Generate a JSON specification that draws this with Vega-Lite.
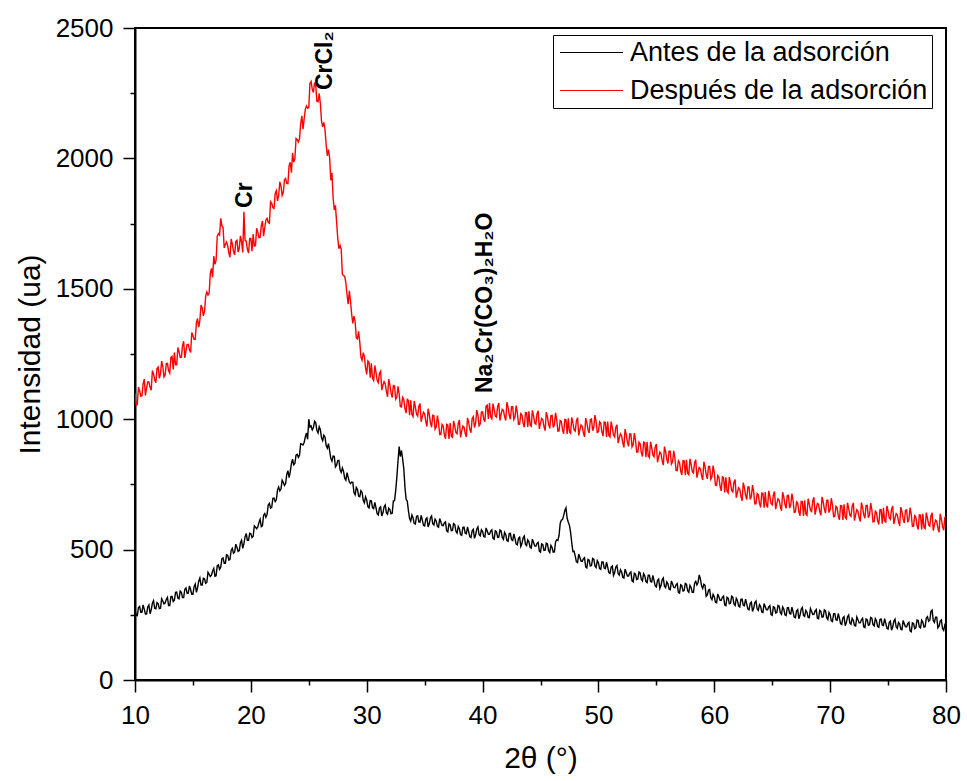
{
"$schema": "https://vega.github.io/schema/vega-lite/v6.json",
"width": 811, "height": 652,
"autosize": {"type": "none"},
"padding": {"left": 135, "top": 28, "right": 21, "bottom": 101},
"background": "white",
"config": {"view": {"stroke": "black", "strokeWidth": 2}, "font": "Liberation Sans"},
"resolve": {"axis": {"x": "independent", "y": "independent"}},
"layer": [
{
"data": {"values": [
{"t":10.0,"a":268,"d":1100},{"t":10.2,"a":247,"d":1056},{"t":10.4,"a":282,"d":1109},{"t":10.6,"a":260,"d":1090},{"t":10.8,"a":272,"d":1154},
{"t":11.0,"a":253,"d":1120},{"t":11.2,"a":288,"d":1143},{"t":11.4,"a":269,"d":1111},{"t":11.6,"a":304,"d":1174},{"t":11.8,"a":273,"d":1140},
{"t":12.0,"a":293,"d":1200},{"t":12.2,"a":275,"d":1174},{"t":12.4,"a":303,"d":1203},{"t":12.6,"a":295,"d":1169},{"t":12.8,"a":317,"d":1214},
{"t":13.0,"a":285,"d":1177},{"t":13.2,"a":320,"d":1241},{"t":13.4,"a":306,"d":1256},{"t":13.6,"a":337,"d":1209},{"t":13.8,"a":311,"d":1259},
{"t":14.0,"a":336,"d":1237},{"t":14.2,"a":316,"d":1299},{"t":14.4,"a":353,"d":1263},{"t":14.6,"a":333,"d":1287},{"t":14.8,"a":347,"d":1256},
{"t":15.0,"a":329,"d":1320},{"t":15.2,"a":368,"d":1306},{"t":15.4,"a":353,"d":1386},{"t":15.6,"a":391,"d":1379},{"t":15.8,"a":364,"d":1427},
{"t":16.0,"a":388,"d":1412},{"t":16.2,"a":374,"d":1488},{"t":16.4,"a":406,"d":1482},{"t":16.6,"a":402,"d":1578},{"t":16.8,"a":428,"d":1625},
{"t":17.0,"a":400,"d":1610},{"t":17.2,"a":441,"d":1712},{"t":17.4,"a":432,"d":1770},{"t":17.6,"a":468,"d":1735},{"t":17.8,"a":447,"d":1670},
{"t":18.0,"a":478,"d":1665},{"t":18.2,"a":463,"d":1621},{"t":18.4,"a":505,"d":1672},{"t":18.6,"a":490,"d":1630},{"t":18.8,"a":509,"d":1686},
{"t":19.0,"a":496,"d":1655},{"t":19.2,"a":536,"d":1681},{"t":19.4,"a":522,"d":1795},{"t":19.6,"a":562,"d":1683},{"t":19.8,"a":536,"d":1637},
{"t":20.0,"a":561,"d":1693},{"t":20.2,"a":551,"d":1710},{"t":20.4,"a":586,"d":1665},{"t":20.6,"a":587,"d":1717},{"t":20.8,"a":616,"d":1697},
{"t":21.0,"a":592,"d":1760},{"t":21.2,"a":638,"d":1735},{"t":21.4,"a":635,"d":1770},{"t":21.6,"a":677,"d":1751},{"t":21.8,"a":662,"d":1828},
{"t":22.0,"a":698,"d":1808},{"t":22.2,"a":691,"d":1876},{"t":22.4,"a":740,"d":1857},{"t":22.6,"a":732,"d":1894},{"t":22.8,"a":758,"d":1869},
{"t":23.0,"a":753,"d":1923},{"t":23.2,"a":803,"d":1903},{"t":23.4,"a":798,"d":1985},{"t":23.6,"a":847,"d":2021},{"t":23.8,"a":830,"d":1998},
{"t":24.0,"a":865,"d":2072},{"t":24.2,"a":862,"d":2076},{"t":24.4,"a":904,"d":2163},{"t":24.6,"a":911,"d":2152},{"t":24.8,"a":947,"d":2201},
{"t":25.0,"a":1000,"d":2195},{"t":25.2,"a":974,"d":2295},{"t":25.4,"a":968,"d":2253},{"t":25.6,"a":986,"d":2280},{"t":25.8,"a":947,"d":2217},
{"t":26.0,"a":960,"d":2210},{"t":26.2,"a":918,"d":2121},{"t":26.4,"a":931,"d":2111},{"t":26.6,"a":889,"d":2010},{"t":26.8,"a":879,"d":2002},
{"t":27.0,"a":839,"d":1945},{"t":27.2,"a":858,"d":1802},{"t":27.4,"a":824,"d":1756},{"t":27.6,"a":842,"d":1654},{"t":27.8,"a":796,"d":1651},
{"t":28.0,"a":800,"d":1550},{"t":28.2,"a":766,"d":1523},{"t":28.4,"a":777,"d":1441},{"t":28.6,"a":753,"d":1453},{"t":28.8,"a":758,"d":1367},
{"t":29.0,"a":710,"d":1375},{"t":29.2,"a":731,"d":1308},{"t":29.4,"a":703,"d":1296},{"t":29.6,"a":719,"d":1226},{"t":29.8,"a":679,"d":1240},
{"t":30.0,"a":690,"d":1172},{"t":30.2,"a":660,"d":1218},{"t":30.4,"a":687,"d":1214},{"t":30.6,"a":657,"d":1149},{"t":30.8,"a":661,"d":1180},
{"t":31.0,"a":633,"d":1140},{"t":31.2,"a":664,"d":1184},{"t":31.4,"a":641,"d":1130},{"t":31.6,"a":671,"d":1135},{"t":31.8,"a":636,"d":1086},
{"t":32.0,"a":653,"d":1132},{"t":32.2,"a":639,"d":1083},{"t":32.4,"a":688,"d":1127},{"t":32.6,"a":777,"d":1085},{"t":32.8,"a":895,"d":1097},
{"t":33.0,"a":880,"d":1047},{"t":33.2,"a":811,"d":1076},{"t":33.4,"a":693,"d":1023},{"t":33.6,"a":649,"d":1072},{"t":33.8,"a":609,"d":1072},
{"t":34.0,"a":622,"d":1010},{"t":34.2,"a":598,"d":1047},{"t":34.4,"a":629,"d":1012},{"t":34.6,"a":605,"d":1060},{"t":34.8,"a":613,"d":1010},
{"t":35.0,"a":591,"d":1020},{"t":35.2,"a":622,"d":972},{"t":35.4,"a":599,"d":1019},{"t":35.6,"a":629,"d":969},{"t":35.8,"a":594,"d":1013},
{"t":36.0,"a":610,"d":970},{"t":36.2,"a":586,"d":987},{"t":36.4,"a":606,"d":941},{"t":36.6,"a":592,"d":974},{"t":36.8,"a":606,"d":925},
{"t":37.0,"a":568,"d":978},{"t":37.2,"a":595,"d":985},{"t":37.4,"a":574,"d":931},{"t":37.6,"a":596,"d":973},{"t":37.8,"a":563,"d":944},
{"t":38.0,"a":580,"d":997},{"t":38.2,"a":555,"d":954},{"t":38.4,"a":586,"d":970},{"t":38.6,"a":561,"d":932},{"t":38.8,"a":569,"d":988},
{"t":39.0,"a":546,"d":948},{"t":39.2,"a":578,"d":1010},{"t":39.4,"a":556,"d":985},{"t":39.6,"a":587,"d":1015},{"t":39.8,"a":553,"d":982},
{"t":40.0,"a":570,"d":1028},{"t":40.2,"a":548,"d":990},{"t":40.4,"a":571,"d":1054},{"t":40.6,"a":559,"d":1062},{"t":40.8,"a":576,"d":1001},
{"t":41.0,"a":540,"d":1037},{"t":41.2,"a":569,"d":1008},{"t":41.4,"a":548,"d":1062},{"t":41.6,"a":572,"d":1018},{"t":41.8,"a":539,"d":1034},
{"t":42.0,"a":558,"d":995},{"t":42.2,"a":532,"d":1046},{"t":42.4,"a":562,"d":1000},{"t":42.6,"a":535,"d":1048},{"t":42.8,"a":542,"d":1009},
{"t":43.0,"a":518,"d":1025},{"t":43.2,"a":548,"d":981},{"t":43.4,"a":523,"d":1016},{"t":43.6,"a":552,"d":969},{"t":43.8,"a":515,"d":1024},
{"t":44.0,"a":530,"d":1030},{"t":44.2,"a":506,"d":973},{"t":44.4,"a":527,"d":1013},{"t":44.6,"a":513,"d":981},{"t":44.8,"a":528,"d":1032},
{"t":45.0,"a":490,"d":985},{"t":45.2,"a":519,"d":998},{"t":45.4,"a":498,"d":956},{"t":45.6,"a":522,"d":1009},{"t":45.8,"a":489,"d":965},
{"t":46.0,"a":508,"d":1015},{"t":46.2,"a":491,"d":979},{"t":46.4,"a":538,"d":999},{"t":46.6,"a":554,"d":955},{"t":46.8,"a":613,"d":991},
{"t":47.0,"a":630,"d":944},{"t":47.2,"a":660,"d":998},{"t":47.4,"a":605,"d":1003},{"t":47.6,"a":565,"d":946},{"t":47.8,"a":492,"d":986},
{"t":48.0,"a":475,"d":954},{"t":48.2,"a":450,"d":1006},{"t":48.4,"a":470,"d":960},{"t":48.6,"a":455,"d":973},{"t":48.8,"a":469,"d":932},
{"t":49.0,"a":430,"d":986},{"t":49.2,"a":459,"d":947},{"t":49.4,"a":439,"d":1001},{"t":49.6,"a":463,"d":969},{"t":49.8,"a":431,"d":992},
{"t":50.0,"a":450,"d":952},{"t":50.2,"a":424,"d":984},{"t":50.4,"a":453,"d":935},{"t":50.6,"a":427,"d":987},{"t":50.8,"a":433,"d":991},
{"t":51.0,"a":409,"d":932},{"t":51.2,"a":437,"d":968},{"t":51.4,"a":412,"d":932},{"t":51.6,"a":439,"d":979},{"t":51.8,"a":402,"d":928},
{"t":52.0,"a":415,"d":937},{"t":52.2,"a":391,"d":892},{"t":52.4,"a":412,"d":942},{"t":52.6,"a":399,"d":896},{"t":52.8,"a":414,"d":943},
{"t":53.0,"a":376,"d":903},{"t":53.2,"a":406,"d":920},{"t":53.4,"a":387,"d":874},{"t":53.6,"a":411,"d":906},{"t":53.8,"a":380,"d":857},
{"t":54.0,"a":400,"d":910},{"t":54.2,"a":373,"d":913},{"t":54.4,"a":402,"d":853},{"t":54.6,"a":376,"d":891},{"t":54.8,"a":382,"d":856},
{"t":55.0,"a":357,"d":905},{"t":55.2,"a":387,"d":856},{"t":55.4,"a":362,"d":868},{"t":55.6,"a":391,"d":824},{"t":55.8,"a":354,"d":876},
{"t":56.0,"a":369,"d":830},{"t":56.2,"a":346,"d":877},{"t":56.4,"a":368,"d":837},{"t":56.6,"a":354,"d":851},{"t":56.8,"a":370,"d":803},
{"t":57.0,"a":333,"d":834},{"t":57.2,"a":362,"d":786},{"t":57.4,"a":343,"d":840},{"t":57.6,"a":367,"d":844},{"t":57.8,"a":336,"d":787},
{"t":58.0,"a":355,"d":827},{"t":58.2,"a":336,"d":794},{"t":58.4,"a":378,"d":845},{"t":58.6,"a":374,"d":797},{"t":58.8,"a":388,"d":810},
{"t":59.0,"a":351,"d":767},{"t":59.2,"a":363,"d":818},{"t":59.4,"a":326,"d":771},{"t":59.6,"a":347,"d":819},{"t":59.8,"a":308,"d":779},
{"t":60.0,"a":319,"d":795},{"t":60.2,"a":296,"d":746},{"t":60.4,"a":318,"d":777},{"t":60.6,"a":306,"d":725},{"t":60.8,"a":322,"d":776},
{"t":61.0,"a":285,"d":777},{"t":61.2,"a":314,"d":718},{"t":61.4,"a":294,"d":755},{"t":61.6,"a":318,"d":721},{"t":61.8,"a":286,"d":769},
{"t":62.0,"a":305,"d":720},{"t":62.2,"a":280,"d":731},{"t":62.4,"a":310,"d":687},{"t":62.6,"a":285,"d":738},{"t":62.8,"a":292,"d":692},
{"t":63.0,"a":269,"d":740},{"t":63.2,"a":299,"d":703},{"t":63.4,"a":275,"d":721},{"t":63.6,"a":303,"d":676},{"t":63.8,"a":267,"d":710},
{"t":64.0,"a":282,"d":662},{"t":64.2,"a":259,"d":716},{"t":64.4,"a":281,"d":721},{"t":64.6,"a":269,"d":664},{"t":64.8,"a":285,"d":704},
{"t":65.0,"a":248,"d":672},{"t":65.2,"a":278,"d":723},{"t":65.4,"a":259,"d":677},{"t":65.6,"a":283,"d":690},{"t":65.8,"a":252,"d":649},
{"t":66.0,"a":272,"d":702},{"t":66.2,"a":247,"d":658},{"t":66.4,"a":278,"d":708},{"t":66.6,"a":253,"d":671},{"t":66.8,"a":261,"d":689},
{"t":67.0,"a":239,"d":644},{"t":67.2,"a":270,"d":678},{"t":67.4,"a":248,"d":630},{"t":67.6,"a":278,"d":684},{"t":67.8,"a":244,"d":689},
{"t":68.0,"a":260,"d":632},{"t":68.2,"a":239,"d":675},{"t":68.4,"a":263,"d":646},{"t":68.6,"a":252,"d":701},{"t":68.8,"a":270,"d":657},
{"t":69.0,"a":235,"d":673},{"t":69.2,"a":263,"d":631},{"t":69.4,"a":242,"d":684},{"t":69.6,"a":265,"d":640},{"t":69.8,"a":232,"d":690},
{"t":70.0,"a":250,"d":653},{"t":70.2,"a":224,"d":671},{"t":70.4,"a":255,"d":627},{"t":70.6,"a":229,"d":661},{"t":70.8,"a":237,"d":614},
{"t":71.0,"a":213,"d":668},{"t":71.2,"a":243,"d":674},{"t":71.4,"a":220,"d":618},{"t":71.6,"a":249,"d":658},{"t":71.8,"a":214,"d":627},
{"t":72.0,"a":229,"d":679},{"t":72.2,"a":207,"d":634},{"t":72.4,"a":231,"d":648},{"t":72.6,"a":219,"d":608},{"t":72.8,"a":237,"d":662},
{"t":73.0,"a":201,"d":620},{"t":73.2,"a":231,"d":670},{"t":73.4,"a":212,"d":633},{"t":73.6,"a":237,"d":652},{"t":73.8,"a":207,"d":607},
{"t":74.0,"a":227,"d":642},{"t":74.2,"a":202,"d":596},{"t":74.4,"a":234,"d":653},{"t":74.6,"a":209,"d":660},{"t":74.8,"a":218,"d":606},
{"t":75.0,"a":195,"d":648},{"t":75.2,"a":226,"d":616},{"t":75.4,"a":203,"d":667},{"t":75.6,"a":233,"d":620},{"t":75.8,"a":198,"d":633},
{"t":76.0,"a":215,"d":591},{"t":76.2,"a":193,"d":645},{"t":76.4,"a":216,"d":602},{"t":76.6,"a":204,"d":652},{"t":76.8,"a":221,"d":616},
{"t":77.0,"a":185,"d":635},{"t":77.2,"a":217,"d":590},{"t":77.4,"a":201,"d":625},{"t":77.6,"a":228,"d":577},{"t":77.8,"a":200,"d":632},
{"t":78.0,"a":222,"d":637},{"t":78.2,"a":204,"d":581},{"t":78.4,"a":243,"d":621},{"t":78.6,"a":229,"d":590},{"t":78.8,"a":268,"d":641},
{"t":79.0,"a":221,"d":595},{"t":79.2,"a":241,"d":608},{"t":79.4,"a":206,"d":566},{"t":79.6,"a":230,"d":618},{"t":79.8,"a":190,"d":574},
{"t":80.0,"a":203,"d":624},
{"t":10.1,"a":248,"d":1054},{"t":10.3,"a":278,"d":1123},{"t":10.5,"a":260,"d":1088},{"t":10.7,"a":288,"d":1135},{"t":10.9,"a":253,"d":1091},
{"t":11.1,"a":280,"d":1143},{"t":11.3,"a":254,"d":1122},{"t":11.5,"a":294,"d":1187},{"t":11.7,"a":275,"d":1150},{"t":11.9,"a":297,"d":1194},
{"t":12.1,"a":274,"d":1157},{"t":12.3,"a":312,"d":1223},{"t":12.5,"a":292,"d":1162},{"t":12.7,"a":309,"d":1213},{"t":12.9,"a":285,"d":1186},
{"t":13.1,"a":320,"d":1237},{"t":13.3,"a":301,"d":1191},{"t":13.5,"a":336,"d":1209},{"t":13.7,"a":314,"d":1275},{"t":13.9,"a":341,"d":1237},
{"t":14.1,"a":316,"d":1281},{"t":14.3,"a":348,"d":1235},{"t":14.5,"a":332,"d":1286},{"t":14.7,"a":361,"d":1266},{"t":14.9,"a":329,"d":1332},
{"t":15.1,"a":358,"d":1306},{"t":15.3,"a":336,"d":1370},{"t":15.5,"a":379,"d":1353},{"t":15.7,"a":364,"d":1438},{"t":15.9,"a":390,"d":1396},
{"t":16.1,"a":371,"d":1472},{"t":16.3,"a":413,"d":1476},{"t":16.5,"a":397,"d":1558},{"t":16.7,"a":418,"d":1544},{"t":16.9,"a":398,"d":1594},
{"t":17.1,"a":438,"d":1702},{"t":17.3,"a":424,"d":1706},{"t":17.5,"a":465,"d":1742},{"t":17.7,"a":447,"d":1657},{"t":17.9,"a":480,"d":1679},
{"t":18.1,"a":460,"d":1638},{"t":18.3,"a":498,"d":1691},{"t":18.5,"a":486,"d":1644},{"t":18.7,"a":521,"d":1682},{"t":18.9,"a":493,"d":1641},
{"t":19.1,"a":526,"d":1703},{"t":19.3,"a":505,"d":1639},{"t":19.5,"a":549,"d":1685},{"t":19.7,"a":536,"d":1651},{"t":19.9,"a":563,"d":1693},
{"t":20.1,"a":546,"d":1644},{"t":20.3,"a":591,"d":1664},{"t":20.5,"a":580,"d":1732},{"t":20.7,"a":604,"d":1696},{"t":20.9,"a":588,"d":1742},
{"t":21.1,"a":632,"d":1702},{"t":21.3,"a":624,"d":1764},{"t":21.5,"a":671,"d":1755},{"t":21.7,"a":659,"d":1834},{"t":21.9,"a":697,"d":1811},
{"t":22.1,"a":684,"d":1866},{"t":22.3,"a":729,"d":1837},{"t":22.5,"a":725,"d":1910},{"t":22.7,"a":766,"d":1858},{"t":22.9,"a":746,"d":1918},
{"t":23.1,"a":788,"d":1904},{"t":23.3,"a":776,"d":1972},{"t":23.5,"a":830,"d":1945},{"t":23.7,"a":825,"d":1986},{"t":23.9,"a":862,"d":2076},
{"t":24.1,"a":854,"d":2063},{"t":24.3,"a":906,"d":2133},{"t":24.5,"a":901,"d":2112},{"t":24.7,"a":932,"d":2188},{"t":24.9,"a":923,"d":2193},
{"t":25.1,"a":970,"d":2287},{"t":25.3,"a":959,"d":2265},{"t":25.5,"a":992,"d":2291},{"t":25.7,"a":957,"d":2219},{"t":25.9,"a":971,"d":2249},
{"t":26.1,"a":929,"d":2142},{"t":26.3,"a":939,"d":2138},{"t":26.5,"a":899,"d":2052},{"t":26.7,"a":906,"d":2034},{"t":26.9,"a":850,"d":1916},
{"t":27.1,"a":859,"d":1850},{"t":27.3,"a":817,"d":1820},{"t":27.5,"a":841,"d":1694},{"t":27.7,"a":806,"d":1666},{"t":27.9,"a":813,"d":1555},
{"t":28.1,"a":774,"d":1548},{"t":28.3,"a":795,"d":1477},{"t":28.5,"a":759,"d":1492},{"t":28.7,"a":759,"d":1403},{"t":28.9,"a":719,"d":1395},
{"t":29.1,"a":738,"d":1312},{"t":29.3,"a":705,"d":1337},{"t":29.5,"a":726,"d":1238},{"t":29.7,"a":689,"d":1255},{"t":29.9,"a":702,"d":1197},
{"t":30.1,"a":665,"d":1223},{"t":30.3,"a":688,"d":1159},{"t":30.5,"a":661,"d":1158},{"t":30.7,"a":681,"d":1206},{"t":30.9,"a":638,"d":1149},
{"t":31.1,"a":659,"d":1176},{"t":31.3,"a":629,"d":1112},{"t":31.5,"a":664,"d":1144},{"t":31.7,"a":641,"d":1106},{"t":31.9,"a":659,"d":1154},
{"t":32.1,"a":637,"d":1101},{"t":32.3,"a":687,"d":1129},{"t":32.5,"a":726,"d":1077},{"t":32.7,"a":839,"d":1126},{"t":32.9,"a":857,"d":1049},
{"t":33.1,"a":848,"d":1084},{"t":33.3,"a":740,"d":1041},{"t":33.5,"a":686,"d":1076},{"t":33.7,"a":619,"d":1015},{"t":33.9,"a":633,"d":1018},
{"t":34.1,"a":600,"d":1070},{"t":34.3,"a":628,"d":1019},{"t":34.5,"a":606,"d":1050},{"t":34.7,"a":631,"d":990},{"t":34.9,"a":593,"d":1027},
{"t":35.1,"a":617,"d":991},{"t":35.3,"a":587,"d":1040},{"t":35.5,"a":622,"d":987},{"t":35.7,"a":599,"d":1015},{"t":35.9,"a":617,"d":962},
{"t":36.1,"a":589,"d":1014},{"t":36.3,"a":619,"d":941},{"t":36.5,"a":593,"d":980},{"t":36.7,"a":602,"d":941},{"t":36.9,"a":572,"d":980},
{"t":37.1,"a":599,"d":924},{"t":37.3,"a":573,"d":935},{"t":37.5,"a":600,"d":993},{"t":37.7,"a":570,"d":948},{"t":37.9,"a":589,"d":984},
{"t":38.1,"a":558,"d":930},{"t":38.3,"a":585,"d":974},{"t":38.5,"a":563,"d":946},{"t":38.7,"a":587,"d":1005},{"t":38.9,"a":549,"d":961},
{"t":39.1,"a":572,"d":1003},{"t":39.3,"a":543,"d":968},{"t":39.5,"a":579,"d":1035},{"t":39.7,"a":557,"d":975},{"t":39.9,"a":576,"d":1027},
{"t":40.1,"a":550,"d":1000},{"t":40.3,"a":583,"d":1050},{"t":40.5,"a":559,"d":1001},{"t":40.7,"a":571,"d":1008},{"t":40.9,"a":543,"d":1060},
{"t":41.1,"a":572,"d":1012},{"t":41.3,"a":547,"d":1049},{"t":41.5,"a":575,"d":995},{"t":41.7,"a":546,"d":1038},{"t":41.9,"a":566,"d":1010},
{"t":42.1,"a":535,"d":1065},{"t":42.3,"a":561,"d":1016},{"t":42.5,"a":538,"d":1048},{"t":42.7,"a":560,"d":999},{"t":42.9,"a":521,"d":1052},
{"t":43.1,"a":543,"d":980},{"t":43.3,"a":512,"d":1021},{"t":43.5,"a":545,"d":984},{"t":43.7,"a":521,"d":1025},{"t":43.9,"a":537,"d":970},
{"t":44.1,"a":509,"d":978},{"t":44.3,"a":540,"d":1034},{"t":44.5,"a":514,"d":986},{"t":44.7,"a":524,"d":1020},{"t":44.9,"a":494,"d":963},
{"t":45.1,"a":522,"d":1003},{"t":45.3,"a":497,"d":972},{"t":45.5,"a":525,"d":1027},{"t":45.7,"a":496,"d":980},{"t":45.9,"a":516,"d":1014},
{"t":46.1,"a":490,"d":968},{"t":46.3,"a":529,"d":1024},{"t":46.5,"a":535,"d":954},{"t":46.7,"a":600,"d":995},{"t":46.9,"a":615,"d":959},
{"t":47.1,"a":650,"d":999},{"t":47.3,"a":620,"d":943},{"t":47.5,"a":593,"d":951},{"t":47.7,"a":525,"d":1007},{"t":47.9,"a":493,"d":959},
{"t":48.1,"a":453,"d":994},{"t":48.3,"a":483,"d":938},{"t":48.5,"a":456,"d":978},{"t":48.7,"a":465,"d":948},{"t":48.9,"a":434,"d":1004},
{"t":49.1,"a":462,"d":960},{"t":49.3,"a":437,"d":998},{"t":49.5,"a":466,"d":956},{"t":49.7,"a":437,"d":1016},{"t":49.9,"a":458,"d":949},
{"t":50.1,"a":427,"d":990},{"t":50.3,"a":453,"d":951},{"t":50.5,"a":429,"d":989},{"t":50.7,"a":452,"d":932},{"t":50.9,"a":412,"d":938},
{"t":51.1,"a":433,"d":991},{"t":51.3,"a":401,"d":939},{"t":51.5,"a":433,"d":969},{"t":51.7,"a":408,"d":908},{"t":51.9,"a":423,"d":944},
{"t":52.1,"a":394,"d":910},{"t":52.3,"a":425,"d":962},{"t":52.5,"a":399,"d":912},{"t":52.7,"a":410,"d":944},{"t":52.9,"a":380,"d":894},
{"t":53.1,"a":409,"d":947},{"t":53.3,"a":385,"d":874},{"t":53.5,"a":414,"d":912},{"t":53.7,"a":386,"d":873},{"t":53.9,"a":408,"d":912},
{"t":54.1,"a":377,"d":854},{"t":54.3,"a":402,"d":860},{"t":54.5,"a":378,"d":913},{"t":54.7,"a":401,"d":863},{"t":54.9,"a":361,"d":894},
{"t":55.1,"a":382,"d":835},{"t":55.3,"a":351,"d":874},{"t":55.5,"a":384,"d":841},{"t":55.7,"a":360,"d":895},{"t":55.9,"a":376,"d":846},
{"t":56.1,"a":348,"d":878},{"t":56.3,"a":380,"d":828},{"t":56.5,"a":355,"d":879},{"t":56.7,"a":365,"d":804},{"t":56.9,"a":336,"d":841},
{"t":57.1,"a":365,"d":801},{"t":57.3,"a":341,"d":841},{"t":57.5,"a":370,"d":785},{"t":57.7,"a":342,"d":792},{"t":57.9,"a":363,"d":848},
{"t":58.1,"a":336,"d":800},{"t":58.3,"a":371,"d":833},{"t":58.5,"a":365,"d":776},{"t":58.7,"a":403,"d":815},{"t":58.9,"a":361,"d":784},
{"t":59.1,"a":367,"d":837},{"t":59.3,"a":321,"d":788},{"t":59.5,"a":344,"d":819},{"t":59.7,"a":315,"d":770},{"t":59.9,"a":328,"d":822},
{"t":60.1,"a":298,"d":747},{"t":60.3,"a":330,"d":784},{"t":60.5,"a":306,"d":742},{"t":60.7,"a":317,"d":779},{"t":60.9,"a":288,"d":719},
{"t":61.1,"a":317,"d":724},{"t":61.3,"a":292,"d":778},{"t":61.5,"a":321,"d":727},{"t":61.7,"a":292,"d":759},{"t":61.9,"a":313,"d":699},
{"t":62.1,"a":283,"d":737},{"t":62.3,"a":309,"d":704},{"t":62.5,"a":287,"d":757},{"t":62.7,"a":310,"d":708},{"t":62.9,"a":272,"d":740},
{"t":63.1,"a":294,"d":692},{"t":63.3,"a":263,"d":747},{"t":63.5,"a":297,"d":675},{"t":63.7,"a":272,"d":715},{"t":63.9,"a":289,"d":677},
{"t":64.1,"a":261,"d":717},{"t":64.3,"a":293,"d":661},{"t":64.5,"a":269,"d":669},{"t":64.7,"a":280,"d":725},{"t":64.9,"a":251,"d":677},
{"t":65.1,"a":281,"d":711},{"t":65.3,"a":257,"d":655},{"t":65.5,"a":286,"d":695},{"t":65.7,"a":258,"d":665},{"t":65.9,"a":280,"d":720},
{"t":66.1,"a":250,"d":673},{"t":66.3,"a":277,"d":707},{"t":66.5,"a":255,"d":660},{"t":66.7,"a":279,"d":715},{"t":66.9,"a":241,"d":643},
{"t":67.1,"a":265,"d":683},{"t":67.3,"a":235,"d":645},{"t":67.5,"a":271,"d":685},{"t":67.7,"a":248,"d":629},{"t":67.9,"a":267,"d":637},
{"t":68.1,"a":240,"d":695},{"t":68.3,"a":274,"d":650},{"t":68.5,"a":251,"d":687},{"t":68.7,"a":264,"d":634},{"t":68.9,"a":237,"d":677},
{"t":69.1,"a":267,"d":647},{"t":69.3,"a":241,"d":702},{"t":69.5,"a":269,"d":655},{"t":69.7,"a":239,"d":689},{"t":69.9,"a":259,"d":642},
{"t":70.1,"a":227,"d":697},{"t":70.3,"a":254,"d":626},{"t":70.5,"a":231,"d":666},{"t":70.7,"a":255,"d":629},{"t":70.9,"a":216,"d":669},
{"t":71.1,"a":238,"d":614},{"t":71.3,"a":208,"d":623},{"t":71.5,"a":242,"d":679},{"t":71.7,"a":219,"d":632},{"t":71.9,"a":236,"d":667},
{"t":72.1,"a":209,"d":611},{"t":72.3,"a":242,"d":653},{"t":72.5,"a":219,"d":623},{"t":72.7,"a":231,"d":680},{"t":72.9,"a":204,"d":634},
{"t":73.1,"a":234,"d":669},{"t":73.3,"a":210,"d":622},{"t":73.5,"a":240,"d":678},{"t":73.7,"a":212,"d":606},{"t":73.9,"a":235,"d":647},
{"t":74.1,"a":205,"d":610},{"t":74.3,"a":232,"d":653},{"t":74.5,"a":211,"d":599},{"t":74.7,"a":235,"d":610},{"t":74.9,"a":198,"d":668},
{"t":75.1,"a":221,"d":621},{"t":75.3,"a":191,"d":655},{"t":75.5,"a":226,"d":598},{"t":75.7,"a":203,"d":638},{"t":75.9,"a":221,"d":607},
{"t":76.1,"a":195,"d":663},{"t":76.3,"a":228,"d":617},{"t":76.5,"a":204,"d":651},{"t":76.7,"a":216,"d":605},{"t":76.9,"a":188,"d":661},
{"t":77.1,"a":219,"d":589},{"t":77.3,"a":197,"d":630},{"t":77.5,"a":230,"d":592},{"t":77.7,"a":204,"d":633},{"t":77.9,"a":229,"d":577},
{"t":78.1,"a":203,"d":586},{"t":78.3,"a":238,"d":642},{"t":78.5,"a":225,"d":595},{"t":78.7,"a":263,"d":629},{"t":78.9,"a":228,"d":573},
{"t":79.1,"a":241,"d":613},{"t":79.3,"a":200,"d":582},{"t":79.5,"a":226,"d":637},{"t":79.7,"a":197,"d":589},{"t":79.9,"a":211,"d":623}
]},
"transform": [{"fold": ["a", "d"], "as": ["serie", "i"]}],
"mark": {"type": "line", "strokeWidth": 1.4, "clip": true},
"encoding": {
 "x": {"field": "t", "type": "quantitative", "scale": {"domain": [10, 80], "nice": false, "zero": false},
  "axis": {"title": "2θ (°)", "orient": "bottom", "values": [10,20,30,40,50,60,70,80],
   "tickSize": 12, "tickWidth": 1.5, "tickColor": "black", "domainColor": "black", "domainWidth": 2,
   "labelFontSize": 26, "labelColor": "black", "labelPadding": 10, "labelFont": "Liberation Sans",
   "labelOverlap": false, "labelFlush": false, "labelBound": false, "grid": false,
   "titleFontSize": 30, "titleFontWeight": "normal", "titleColor": "black", "titleFont": "Liberation Sans",
   "titleY": 87, "titleBaseline": "alphabetic"}},
 "y": {"field": "i", "type": "quantitative", "scale": {"domain": [0, 2500], "nice": false, "zero": true},
  "axis": {"title": "Intensidad (ua)", "orient": "left", "values": [0,500,1000,1500,2000,2500], "format": "d",
   "tickSize": 12, "tickWidth": 1.5, "tickColor": "black", "domainColor": "black", "domainWidth": 2,
   "labelFontSize": 26, "labelColor": "black", "labelPadding": 10, "labelFont": "Liberation Sans",
   "labelOverlap": false, "labelFlush": false, "labelBound": false, "grid": false,
   "titleFontSize": 30, "titleFontWeight": "normal", "titleColor": "black", "titleFont": "Liberation Sans",
   "titleX": -105, "titleY": 326, "titleAngle": 270, "titleBaseline": "middle", "titleAlign": "center"}},
 "color": {"field": "serie", "type": "nominal",
  "scale": {"domain": ["a", "d"], "range": ["#000000", "#ff0000"]},
  "legend": {"title": null, "orient": "none", "legendX": 418, "legendY": 7,
   "labelExpr": "datum.value === 'a' ? 'Antes de la adsorción' : 'Después de la adsorción'",
   "symbolType": "M-1,0H5", "symbolSize": 441, "symbolStrokeWidth": 1.2,
   "labelOffset": 46, "labelFontSize": 27, "labelFont": "Liberation Sans", "labelColor": "black", "labelLimit": 0,
   "rowPadding": 10, "padding": 4, "strokeColor": "black", "fillColor": "white"}}
}
},
{
"data": {"values": [
 {"t": 19.5, "i": 1810, "txt": "Cr"},
 {"t": 26.4, "i": 2262, "txt": "CrCl₂"},
 {"t": 40.2, "i": 1100, "txt": "Na₂Cr(CO₃)₂H₂O"}
]},
"mark": {"type": "text", "angle": 270, "align": "left", "baseline": "middle", "fontWeight": "bold", "fontSize": 23, "font": "Liberation Sans, DejaVu Sans", "color": "black"},
"encoding": {
 "x": {"field": "t", "type": "quantitative",
  "axis": {"title": null, "orient": "bottom", "values": [15,25,35,45,55,65,75], "labels": false, "domain": false, "grid": false,
   "tickSize": 5, "tickWidth": 1.5, "tickColor": "black"}},
 "y": {"field": "i", "type": "quantitative",
  "axis": {"title": null, "orient": "left", "values": [250,750,1250,1750,2250], "labels": false, "domain": false, "grid": false,
   "tickSize": 5, "tickWidth": 1.5, "tickColor": "black"}},
 "text": {"field": "txt", "type": "nominal"}
}
}
]
}
